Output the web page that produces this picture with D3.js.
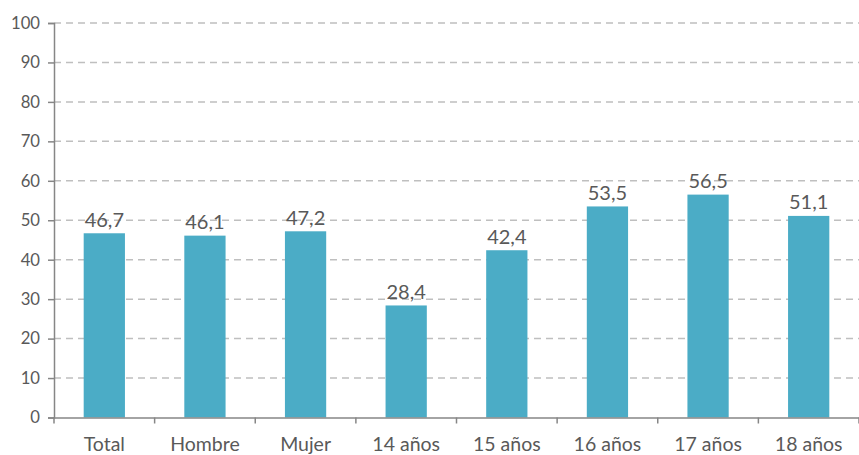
<html>
<head><meta charset="utf-8"></head>
<script src="https://d3js.org/d3.v7.min.js"></script>
<body style="margin:0;background:#fff">
<svg width=859 height=455></svg>
<script>
const categories = ["Total", "Hombre", "Mujer", "14 años", "15 años", "16 años", "17 años", "18 años"]
const values = [46.7, 46.1, 47.2, 28.4, 42.4, 53.5, 56.5, 51.1]
const yTicks = [0, 10, 20, 30, 40, 50, 60, 70, 80, 90, 100]

const svg = d3.select("svg")
const width = +svg.attr("width")
const height = +svg.attr("height")
const margin = {top: 23, right: 0, bottom: 37.5, left: 54}
const font = "Lato, 'Open Sans', sans-serif"
const textColor = "#595959"

const xs = d3.scaleBand().domain(categories).range([margin.left, width - margin.right]).padding(0)
const ys = d3.scaleLinear().domain([0, 100]).range([height - margin.bottom, margin.top])
const barW = xs.bandwidth() * 0.41

// gridlines
svg.append("g")
  .selectAll("line")
  .data(yTicks.filter(d => d > 0))
  .enter()
  .append("line")
  .attr("x1", margin.left)
  .attr("x2", width - margin.right)
  .attr("y1", d => ys(d))
  .attr("y2", d => ys(d))
  .attr("stroke", "#bfbfbf")
  .attr("stroke-width", 1.5)
  .attr("stroke-dasharray", "7,5")

// bars
svg.append("g")
  .selectAll("rect")
  .data(values)
  .enter()
  .append("rect")
  .attr("x", (d, i) => xs(categories[i]) + xs.bandwidth() / 2 - barW / 2)
  .attr("y", d => ys(d))
  .attr("width", barW)
  .attr("height", d => ys(0) - ys(d))
  .attr("fill", "#4bacc6")

// value labels
svg.append("g")
  .selectAll("text")
  .data(values)
  .enter()
  .append("text")
  .attr("x", (d, i) => xs(categories[i]) + xs.bandwidth() / 2)
  .attr("y", d => ys(d) - 6.5)
  .attr("text-anchor", "middle")
  .attr("font-family", font)
  .attr("font-size", 20)
  .attr("fill", textColor)
  .text(d => d3.format(".1f")(d).replace(".", ","))

// y axis
const yAxis = d3.axisLeft(ys).tickValues(yTicks).tickSize(6).tickPadding(8)
const gy = svg.append("g")
  .attr("transform", "translate(" + margin.left + ",0)")
  .call(yAxis)
gy.select(".domain").attr("stroke", "#868686").attr("stroke-width", 1.5)
gy.selectAll(".tick line").attr("stroke", "#868686").attr("stroke-width", 1.5)
gy.selectAll(".tick text").attr("font-family", font).attr("font-size", 16.7).attr("fill", textColor)

// x axis
const xAxis = d3.axisBottom(xs).tickSize(0).tickPadding(20)
const gx = svg.append("g")
  .attr("transform", "translate(0," + ys(0) + ")")
  .call(xAxis)
gx.select(".domain").attr("stroke", "#868686").attr("stroke-width", 1.5)
gx.selectAll(".tick text").attr("font-family", font).attr("font-size", 19.5).attr("fill", textColor)

// category separators
gx.append("g")
  .selectAll("line")
  .data(categories.concat([null]))
  .enter()
  .append("line")
  .attr("x1", (d, i) => i < categories.length ? xs(d) : xs.range()[1])
  .attr("x2", (d, i) => i < categories.length ? xs(d) : xs.range()[1])
  .attr("y1", 0)
  .attr("y2", 6)
  .attr("stroke", "#868686")
  .attr("stroke-width", 1.5)
</script>
</body>
</html>
